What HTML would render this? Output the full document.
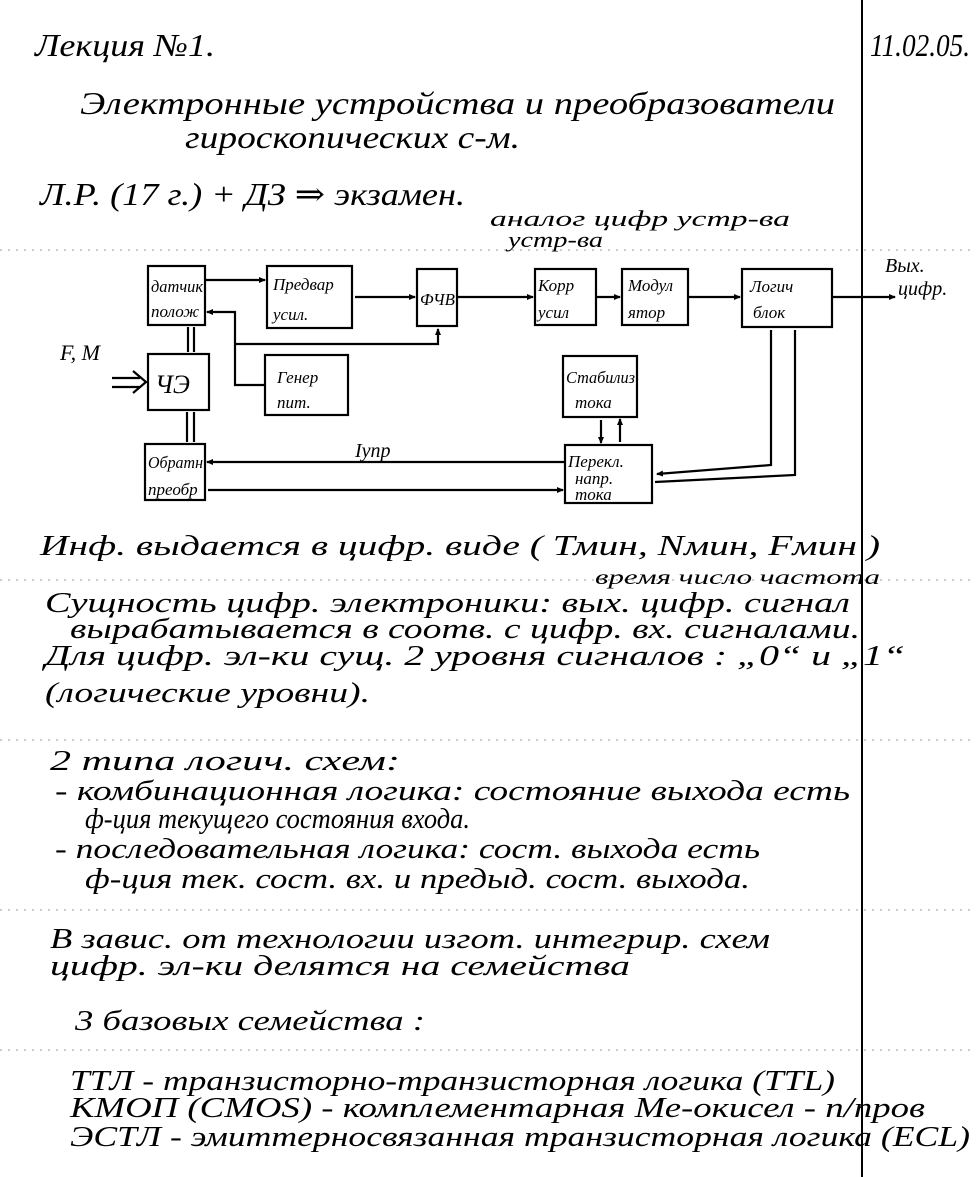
<!DOCTYPE html>
<html><head><meta charset="utf-8"><style>
html,body{margin:0;padding:0;background:#fff;}
svg{display:block;}
text{font-family:"Liberation Serif","DejaVu Serif",serif;font-style:italic;fill:#000;}
</style></head><body>
<svg width="976" height="1177" viewBox="0 0 976 1177" xmlns="http://www.w3.org/2000/svg">
<defs><marker id="a" markerWidth="7" markerHeight="6" refX="6" refY="3" orient="auto" markerUnits="userSpaceOnUse"><path d="M0,0 L7,3 L0,6 z" fill="#000"/></marker></defs>
<g stroke="#999" stroke-width="1" stroke-dasharray="2,6">
<line x1="0" y1="250" x2="976" y2="250"/><line x1="0" y1="580" x2="976" y2="580"/><line x1="0" y1="740" x2="976" y2="740"/><line x1="0" y1="910" x2="976" y2="910"/><line x1="0" y1="1050" x2="976" y2="1050"/>
</g>
<line x1="862" y1="0" x2="862" y2="1177" stroke="#000" stroke-width="2"/>
<g font-size="32">
<text x="35" y="56" textLength="180" lengthAdjust="spacingAndGlyphs">Лекция №1.</text>
<text x="870" y="56" textLength="100" lengthAdjust="spacingAndGlyphs">11.02.05.</text>
<text x="80" y="114" textLength="755" lengthAdjust="spacingAndGlyphs">Электронные устройства и преобразователи</text>
<text x="185" y="148" textLength="335" lengthAdjust="spacingAndGlyphs">гироскопических с-м.</text>
<text x="40" y="205" textLength="425" lengthAdjust="spacingAndGlyphs">Л.Р. (17 г.) + ДЗ ⇒ экзамен.</text>
</g>
<g font-size="22">
<text x="490" y="226" textLength="300" lengthAdjust="spacingAndGlyphs">аналог   цифр устр-ва</text>
<text x="508" y="247" textLength="95" lengthAdjust="spacingAndGlyphs">устр-ва</text>
</g>
<g fill="none" stroke="#000" stroke-width="2.2">
<rect x="148" y="266" width="57" height="59"/>
<rect x="267" y="266" width="85" height="62"/>
<rect x="417" y="269" width="40" height="57"/>
<rect x="535" y="269" width="61" height="56"/>
<rect x="622" y="269" width="66" height="56"/>
<rect x="742" y="269" width="90" height="58"/>
<rect x="148" y="354" width="61" height="56"/>
<rect x="265" y="355" width="83" height="60"/>
<rect x="563" y="356" width="74" height="61"/>
<rect x="145" y="444" width="60" height="56"/>
<rect x="565" y="445" width="87" height="58"/>
<line x1="205" y1="280" x2="265" y2="280" marker-end="url(#a)"/>
<line x1="355" y1="297" x2="415" y2="297" marker-end="url(#a)"/>
<line x1="458" y1="297" x2="533" y2="297" marker-end="url(#a)"/>
<line x1="597" y1="297" x2="620" y2="297" marker-end="url(#a)"/>
<line x1="688" y1="297" x2="740" y2="297" marker-end="url(#a)"/>
<line x1="832" y1="297" x2="895" y2="297" marker-end="url(#a)"/>
<polyline points="265,385 235,385 235,312 207,312" marker-end="url(#a)"/>
<polyline points="235,344 438,344 438,329" marker-end="url(#a)"/>
<line x1="188" y1="327" x2="188" y2="352"/><line x1="194" y1="327" x2="194" y2="352"/>
<line x1="187" y1="412" x2="187" y2="442"/><line x1="194" y1="412" x2="194" y2="442"/>
<line x1="565" y1="462" x2="207" y2="462" marker-end="url(#a)"/>
<line x1="208" y1="490" x2="563" y2="490" marker-end="url(#a)"/>
<polyline points="771,330 771,465 657,474" marker-end="url(#a)"/>
<polyline points="795,330 795,475 655,482"/>
<line x1="601" y1="420" x2="601" y2="443" marker-end="url(#a)"/>
<line x1="620" y1="442" x2="620" y2="419" marker-end="url(#a)"/>
<path d="M112,378 L140,378 M112,387 L140,387 M133,371 L146,382 L133,393"/>
</g>
<g font-size="17">
<text x="151" y="292" textLength="52" lengthAdjust="spacingAndGlyphs">датчик</text><text x="151" y="317">полож</text>
<text x="273" y="290">Предвар</text><text x="273" y="320">усил.</text>
<text x="420" y="305" textLength="35" lengthAdjust="spacingAndGlyphs">ФЧВ</text>
<text x="538" y="291">Корр</text><text x="538" y="318">усил</text>
<text x="628" y="291">Модул</text><text x="628" y="318">ятор</text>
<text x="750" y="292">Логич</text><text x="753" y="318">блок</text>
<text x="155" y="393" font-size="26">ЧЭ</text>
<text x="277" y="383">Генер</text><text x="277" y="408">пит.</text>
<text x="566" y="383" textLength="69" lengthAdjust="spacingAndGlyphs">Стабилиз</text><text x="575" y="408">тока</text>
<text x="148" y="468" textLength="55" lengthAdjust="spacingAndGlyphs">Обратн</text><text x="148" y="495">преобр</text>
<text x="568" y="467">Перекл.</text><text x="575" y="484">напр.</text><text x="575" y="500">тока</text>
<text x="355" y="457" font-size="20">Iупр</text>
<text x="60" y="360" font-size="22">F, M</text>
<text x="885" y="272" font-size="20">Вых.</text><text x="898" y="295" font-size="20">цифр.</text>
</g>
<g font-size="29">
<text x="40" y="555" textLength="840" lengthAdjust="spacingAndGlyphs">Инф. выдается в цифр. виде ( Тмин, Nмин, Fмин )</text>
<text x="595" y="584" font-size="20" textLength="285" lengthAdjust="spacingAndGlyphs">время  число  частота</text>
<text x="45" y="612" textLength="805" lengthAdjust="spacingAndGlyphs">Сущность цифр. электроники: вых. цифр. сигнал</text>
<text x="70" y="638" textLength="790" lengthAdjust="spacingAndGlyphs">вырабатывается в соотв. с цифр. вх. сигналами.</text>
<text x="45" y="665" textLength="860" lengthAdjust="spacingAndGlyphs">Для цифр. эл-ки сущ. 2 уровня сигналов : „0“ и „1“</text>
<text x="45" y="702" textLength="325" lengthAdjust="spacingAndGlyphs">(логические уровни).</text>
<text x="50" y="770" textLength="350" lengthAdjust="spacingAndGlyphs">2 типа логич. схем:</text>
<text x="55" y="800" textLength="795" lengthAdjust="spacingAndGlyphs">- комбинационная логика: состояние выхода есть</text>
<text x="85" y="828" textLength="385" lengthAdjust="spacingAndGlyphs">ф-ция текущего состояния входа.</text>
<text x="55" y="858" textLength="705" lengthAdjust="spacingAndGlyphs">- последовательная логика: сост. выхода есть</text>
<text x="85" y="888" textLength="665" lengthAdjust="spacingAndGlyphs">ф-ция тек. сост. вх. и предыд. сост. выхода.</text>
<text x="50" y="948" textLength="720" lengthAdjust="spacingAndGlyphs">В завис. от технологии изгот. интегрир. схем</text>
<text x="50" y="975" textLength="580" lengthAdjust="spacingAndGlyphs">цифр. эл-ки делятся на семейства</text>
<text x="75" y="1030" textLength="350" lengthAdjust="spacingAndGlyphs">3 базовых семейства :</text>
<text x="70" y="1090" textLength="765" lengthAdjust="spacingAndGlyphs">ТТЛ - транзисторно-транзисторная логика (ТТL)</text>
<text x="70" y="1117" textLength="855" lengthAdjust="spacingAndGlyphs">КМОП (CMOS) - комплементарная Ме-окисел - п/пров</text>
<text x="70" y="1146" textLength="900" lengthAdjust="spacingAndGlyphs">ЭСТЛ - эмиттерносвязанная транзисторная логика (ECL)</text>
</g>
</svg>
</body></html>
